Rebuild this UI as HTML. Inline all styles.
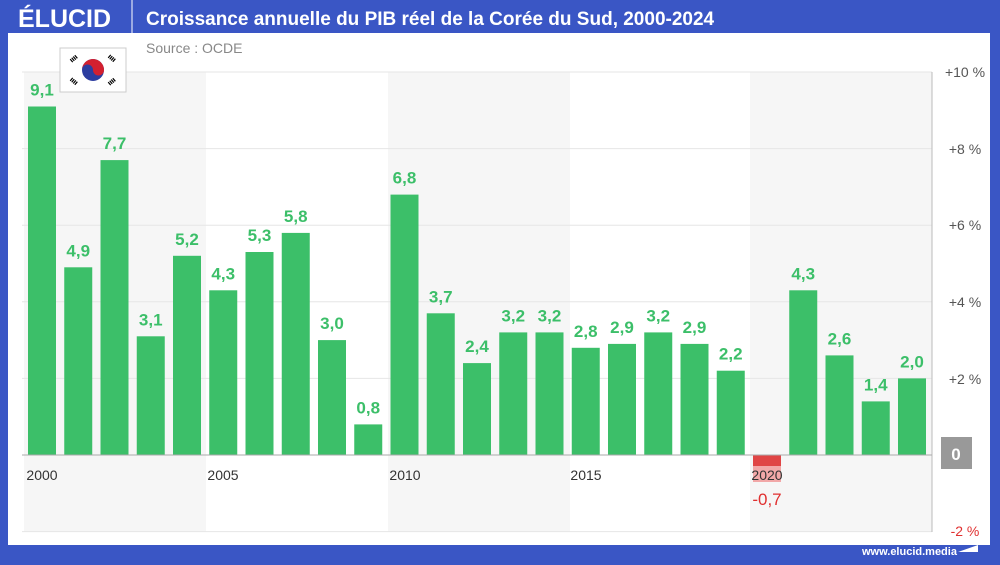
<!DOCTYPE html>
<html><head><meta charset="utf-8"><style>
body{margin:0;width:1000px;height:560px;overflow:hidden;background:#3a56c5;font-family:"Liberation Sans",sans-serif}
</style></head><body>
<svg width="1000" height="560" xmlns="http://www.w3.org/2000/svg" font-family="Liberation Sans, sans-serif">
<rect x="0" y="0" width="1000" height="560" fill="#3a56c5"/>
<rect x="8" y="33" width="982" height="512" fill="#fff"/>
<text x="18" y="27" font-size="25" font-weight="bold" fill="#fff">ÉLUCID</text>
<line x1="132" y1="0" x2="132" y2="33" stroke="#fff" stroke-width="1"/>
<text x="146" y="25" font-size="19" font-weight="bold" fill="#fff">Croissance annuelle du PIB réel de la Corée du Sud, 2000-2024</text>
<text x="146" y="53" font-size="14" fill="#888">Source : OCDE</text>
<rect x="24" y="72" width="182" height="460" fill="#f6f6f6"/>
<rect x="388" y="72" width="182" height="460" fill="#f6f6f6"/>
<rect x="750" y="72" width="182" height="460" fill="#f6f6f6"/>
<g stroke="#e6e6e6" stroke-width="1">
<line x1="22" y1="72" x2="932" y2="72"/><line x1="22" y1="148.6" x2="932" y2="148.6"/><line x1="22" y1="225.2" x2="932" y2="225.2"/><line x1="22" y1="301.8" x2="932" y2="301.8"/><line x1="22" y1="378.4" x2="932" y2="378.4"/><line x1="22" y1="531.6" x2="932" y2="531.6"/>
</g>
<line x1="932" y1="72" x2="932" y2="532" stroke="#bbb"/>
<g fill="#3cbf69">
<rect x="28" y="106.5" width="28" height="348.5"/>
<rect x="64.25" y="267.3" width="28" height="187.7"/>
<rect x="100.5" y="160.1" width="28" height="294.9"/>
<rect x="136.75" y="336.3" width="28" height="118.7"/>
<rect x="173" y="255.8" width="28" height="199.2"/>
<rect x="209.25" y="290.3" width="28" height="164.7"/>
<rect x="245.5" y="252" width="28" height="203"/>
<rect x="281.75" y="232.9" width="28" height="222.1"/>
<rect x="318" y="340.1" width="28" height="114.9"/>
<rect x="354.25" y="424.4" width="28" height="30.6"/>
<rect x="390.5" y="194.6" width="28" height="260.4"/>
<rect x="426.75" y="313.3" width="28" height="141.7"/>
<rect x="463" y="363.1" width="28" height="91.9"/>
<rect x="499.25" y="332.4" width="28" height="122.6"/>
<rect x="535.5" y="332.4" width="28" height="122.6"/>
<rect x="571.75" y="347.8" width="28" height="107.2"/>
<rect x="608" y="343.9" width="28" height="111.1"/>
<rect x="644.25" y="332.4" width="28" height="122.6"/>
<rect x="680.5" y="343.9" width="28" height="111.1"/>
<rect x="716.75" y="370.7" width="28" height="84.3"/>
<rect x="789.25" y="290.3" width="28" height="164.7"/>
<rect x="825.5" y="355.4" width="28" height="99.6"/>
<rect x="861.75" y="401.4" width="28" height="53.6"/>
<rect x="898" y="378.4" width="28" height="76.6"/>
</g>
<rect x="753" y="455" width="28" height="11" fill="#e04545"/>
<rect x="753" y="466" width="28" height="16" fill="#f2a8a8"/>
<g font-size="17" font-weight="bold" fill="#3cbf69" text-anchor="middle">
<text x="42" y="95.5">9,1</text><text x="78.25" y="256.3">4,9</text><text x="114.5" y="149.1">7,7</text><text x="150.75" y="325.3">3,1</text><text x="187" y="244.8">5,2</text><text x="223.25" y="279.3">4,3</text><text x="259.5" y="241">5,3</text><text x="295.75" y="221.9">5,8</text><text x="332" y="329.1">3,0</text><text x="368.25" y="413.4">0,8</text><text x="404.5" y="183.6">6,8</text><text x="440.75" y="302.3">3,7</text><text x="477" y="352.1">2,4</text><text x="513.25" y="321.4">3,2</text><text x="549.5" y="321.4">3,2</text><text x="585.75" y="336.8">2,8</text><text x="622" y="332.9">2,9</text><text x="658.25" y="321.4">3,2</text><text x="694.5" y="332.9">2,9</text><text x="730.75" y="359.7">2,2</text><text x="803.25" y="279.3">4,3</text><text x="839.5" y="344.4">2,6</text><text x="875.75" y="390.4">1,4</text><text x="912" y="367.4">2,0</text>
</g>
<text x="767" y="505" font-size="17" fill="#e03030" text-anchor="middle">-0,7</text>
<line x1="22" y1="455" x2="932" y2="455" stroke="#aaa"/>
<g font-size="14" fill="#333" text-anchor="middle">
<text x="42" y="480">2000</text><text x="223" y="480">2005</text><text x="405" y="480">2010</text><text x="586" y="480">2015</text><text x="767" y="480">2020</text>
</g>
<g font-size="14" fill="#555" text-anchor="middle">
<text x="965" y="77">+10 %</text><text x="965" y="154">+8 %</text><text x="965" y="230">+6 %</text><text x="965" y="307">+4 %</text><text x="965" y="384">+2 %</text>
<text x="965" y="536" fill="#e03030">-2 %</text>
</g>
<rect x="941" y="437" width="31" height="32" fill="#999"/>
<text x="956" y="460" font-size="17" font-weight="bold" fill="#fff" text-anchor="middle">0</text>
<rect x="60" y="48" width="66" height="44" fill="#fff" stroke="#ccc"/>
<circle cx="93" cy="70" r="11" fill="#2c3da0"/>
<path d="M82 70 A11 11 0 0 1 104 70 A5.5 5.5 0 0 1 93 70 A5.5 5.5 0 0 0 82 70Z" fill="#d3202f"/>
<g stroke="#000" stroke-width="4" stroke-dasharray="1.2 0.8"><line x1="71" y1="61" x2="77" y2="56"/><line x1="109" y1="56" x2="115" y2="61"/><line x1="71" y1="79" x2="77" y2="84"/><line x1="109" y1="84" x2="115" y2="79"/></g>
<text x="862" y="555" font-size="11" font-weight="bold" fill="#fff">www.elucid.media</text>
<polygon points="958,552 978,545 978,552" fill="#fff"/>
</svg>
</body></html>
